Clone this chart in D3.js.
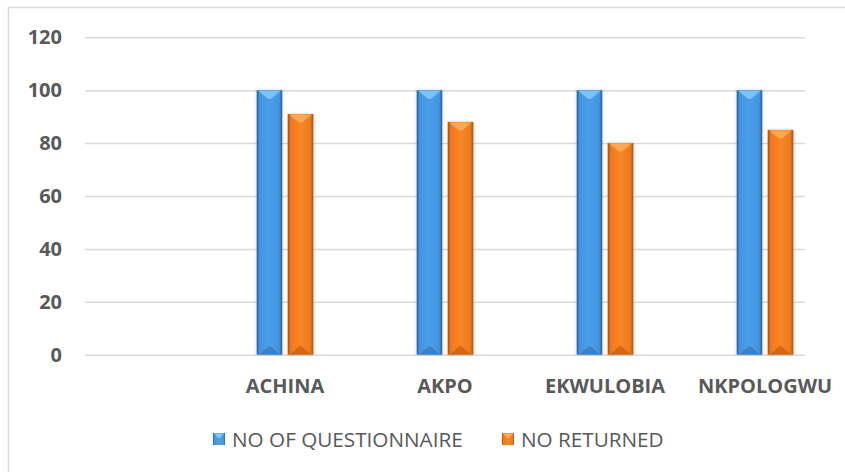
<!DOCTYPE html>
<html>
<head>
<meta charset="utf-8">
<script src="https://cdn.jsdelivr.net/npm/d3@7/dist/d3.min.js"></script>
<style>
  html, body { margin: 0; padding: 0; background: #ffffff; }
  svg { display: block; }
  text { font-family: "Open Sans", "Liberation Sans", sans-serif; fill: #595959; }
</style>
</head>
<body>
<svg id="chart" width="845" height="472"></svg>
<script>
// Survey returns per location
const categories = ["", "ACHINA", "AKPO", "EKWULOBIA", "NKPOLOGWU"];
const seriesNames = ["NO OF QUESTIONNAIRE", "NO RETURNED"];
const questionnaires = [null, 100, 100, 100, 100];
const returned = [null, 91, 88, 80, 85];
const yTicks = [0, 20, 40, 60, 80, 100, 120];

const seriesValues = [questionnaires, returned];
const palette = [
  { edge: "#285e9f", mid: "#4394e0", light: "#4ca0e8", cap: "#7ccaf8", foot: "#2a5f9e" },
  { edge: "#ad4c08", mid: "#f07a1c", light: "#f88628", cap: "#ffae58", foot: "#a84a08" }
];

const svg = d3.select("#chart");

// chart frame
svg.append("rect")
  .attr("x", 8.5).attr("y", 7.5)
  .attr("width", 860).attr("height", 480)
  .attr("fill", "#ffffff")
  .attr("stroke", "#d9d9d9").attr("stroke-width", 1.5);

const gridLeft = 85, gridRight = 805;
const y = d3.scaleLinear().domain([0, 120]).range([354.7, 37.3]);
const x0 = d3.scaleBand().domain(categories).range([45, 845]).paddingInner(0.646).paddingOuter(0.323);
const x1 = d3.scaleBand().domain(seriesNames).range([0, x0.bandwidth()]).paddingInner(0.177);

// gradients giving the bevelled column look
const defs = svg.append("defs");
palette.forEach((p, i) => {
  const g = defs.append("linearGradient").attr("id", "bar" + i)
    .attr("x1", "0%").attr("x2", "100%").attr("y1", "0%").attr("y2", "0%");
  g.append("stop").attr("offset", "0%").attr("stop-color", p.edge);
  g.append("stop").attr("offset", "12%").attr("stop-color", p.mid);
  g.append("stop").attr("offset", "50%").attr("stop-color", p.light);
  g.append("stop").attr("offset", "88%").attr("stop-color", p.mid);
  g.append("stop").attr("offset", "100%").attr("stop-color", p.edge);
});
const shadow = defs.append("filter").attr("id", "soft").attr("x", "-30%").attr("y", "-10%").attr("width", "160%").attr("height", "120%");
shadow.append("feDropShadow").attr("dx", 0).attr("dy", 0).attr("stdDeviation", 1.6)
  .attr("flood-color", "#000").attr("flood-opacity", 0.22);

// y axis with gridlines
const yAxis = d3.axisLeft(y).tickValues(yTicks)
  .tickSize(-(gridRight - gridLeft)).tickPadding(23);
const yG = svg.append("g").attr("transform", `translate(${gridLeft},0)`).call(yAxis);
yG.select(".domain").remove();
yG.selectAll(".tick line").attr("stroke", "#d9d9d9").attr("stroke-width", 1.5);
yG.selectAll(".tick text")
  .attr("font-size", 20).attr("font-weight", 700).attr("fill", "#595959")
  .style("font-family", "'Open Sans', sans-serif");

// x axis labels
const xAxis = d3.axisBottom(x0).tickSize(0).tickPadding(24);
const xG = svg.append("g").attr("transform", `translate(0,${y(0)})`).call(xAxis);
xG.select(".domain").remove();
xG.selectAll(".tick text")
  .attr("font-size", 20).attr("font-weight", 700).attr("fill", "#595959")
  .style("font-family", "'Open Sans', sans-serif");

// columns
const rows = categories.map((c, i) => ({
  cat: c,
  vals: seriesNames.map((s, k) => ({ series: s, k, v: seriesValues[k][i] }))
})).filter(r => r.vals.some(d => d.v != null));

const groups = svg.append("g").selectAll("g").data(rows).join("g")
  .attr("transform", d => `translate(${x0(d.cat)},0)`);

const bars = groups.selectAll("g").data(d => d.vals.filter(v => v.v != null)).join("g");
const bw = x1.bandwidth();

bars.append("rect")
  .attr("x", d => x1(d.series))
  .attr("y", d => y(d.v))
  .attr("width", bw)
  .attr("height", d => y(0) - y(d.v))
  .attr("fill", d => `url(#bar${d.k})`)
  .attr("filter", "url(#soft)");

// top bevel
bars.append("polygon")
  .attr("points", d => {
    const x = x1(d.series), t = y(d.v);
    return [[x + 1.5, t + 0.5], [x + bw - 1.5, t + 0.5], [x + bw / 2 + 1.5, t + 8.5], [x + bw / 2 - 1.5, t + 8.5]]
      .map(p => p.join(",")).join(" ");
  })
  .attr("fill", d => palette[d.k].cap)
  .attr("opacity", 0.9);

// bottom bevel
bars.append("polygon")
  .attr("points", d => {
    const x = x1(d.series), b = y(0);
    return [[x + 2, b], [x + bw / 2, b - 9], [x + bw - 2, b]].map(p => p.join(",")).join(" ");
  })
  .attr("fill", d => palette[d.k].foot)
  .attr("opacity", 0.45);

// legend
const legendX = [213, 502];
const legend = svg.append("g").selectAll("g").data(seriesNames).join("g")
  .attr("transform", (d, i) => `translate(${legendX[i]},433)`);
legend.append("rect")
  .attr("width", 12).attr("height", 12)
  .attr("fill", (d, i) => `url(#bar${i})`);
legend.append("polygon")
  .attr("points", "1,0.5 11,0.5 7,5 5,5")
  .attr("fill", (d, i) => palette[i].cap);
legend.append("text")
  .attr("x", 19).attr("y", 14)
  .attr("font-size", 20.7).attr("font-weight", 400)
  .text(d => d);
</script>
</body>
</html>
